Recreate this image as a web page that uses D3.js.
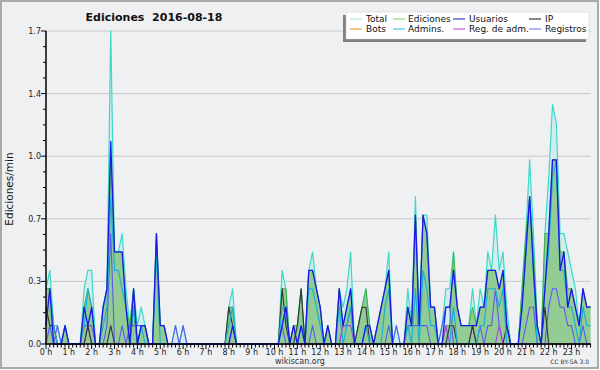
<!DOCTYPE html>
<html><head><meta charset="utf-8">
<script src="https://cdn.jsdelivr.net/npm/d3@7"></script>
<style>html,body{margin:0;padding:0;background:#fff;}svg{display:block;font-family:"DejaVu Sans",sans-serif;}</style>
</head><body>
<svg id="c" width="600" height="370"></svg>
<script>
// 10-minute bins, edits per minute (144 bins, one row per hour)
const total = [
 .3,.4,.1,.1,0,.1,  0,0,0,0,.3,.4,  .4,0,0,.2,.3,1.7,  .5,.5,.6,.3,.1,.3,
 .1,.2,.1,0,0,.6,  .1,.1,0,0,.1,0,  .1,0,0,0,0,0,  0,0,0,0,0,0,
 .2,.3,0,0,0,0,  0,0,0,0,0,0,  0,0,.4,.3,0,.1,  .1,.3,0,.4,.5,.3,
 .2,0,.1,0,0,.3,  .2,.3,.5,0,.1,.2,  .3,.1,0,.1,.2,.3,  .5,0,.1,0,0,.3,
 .1,.8,.1,.7,.7,.2,  .2,0,.1,.3,.3,.5,  .2,.1,.1,.1,.3,.1,  .3,.2,.5,.4,.7,.4,
 .5,.2,0,0,0,.3,  .6,1.0,.6,.1,0,.6,  .9,1.3,1.2,.6,.6,.5,  .4,.3,.1,.3,.2,.2
];
const ediciones = [
 .3,.3,.1,0,0,.1,  0,0,0,0,.2,.3,  .2,0,0,.2,.3,1.0,  .5,.5,.5,.2,.1,.3,
 0,.1,.1,0,0,.6,  .1,.1,0,0,0,0,  0,0,0,0,0,0,  0,0,0,0,0,0,
 .2,.2,0,0,0,0,  0,0,0,0,0,0,  0,0,.3,.3,0,.1,  .1,.3,0,.4,.4,.3,
 .2,0,.1,0,0,.3,  .1,.2,.3,0,.1,.2,  .3,.1,0,.1,.2,.3,  .4,0,0,0,0,.2,
 .1,.7,.1,.7,.6,.2,  .2,0,0,.1,.1,.5,  .2,.1,.1,.1,.2,.1,  .2,.2,.4,.4,.4,.3,
 .4,.1,0,0,0,.3,  .6,.8,.5,.1,0,.6,  .6,1.0,1.0,.5,.5,.3,  .3,.2,.1,.3,.2,.2
];
const usuarios = [
 .1,.3,0,0,0,.1,  0,0,0,0,.2,.1,  .2,0,0,.2,.3,1.1,  .5,.5,.5,.2,0,.3,
 0,.1,.1,0,0,.6,  .1,.1,0,0,0,0,  0,0,0,0,0,0,  0,0,0,0,0,0,
 0,.1,0,0,0,0,  0,0,0,0,0,0,  0,0,.1,.2,0,.1,  0,.1,0,.4,.4,.3,
 .2,0,.1,0,0,.3,  .1,.2,.3,0,0,0,  .1,.1,0,.1,.2,.3,  .4,0,0,0,0,.2,
 .1,.7,.1,.7,.6,.2,  .2,0,0,.2,.2,.4,  .2,.1,.1,.1,.1,.1,  .2,.2,.4,.4,.4,.3,
 .4,.1,0,0,0,.2,  .5,.8,.4,.1,0,.3,  .6,1.0,1.0,.4,.5,.2,  .3,.2,.1,.3,.2,.2
];
const ip = [
 .2,.1,.1,0,0,0,  0,0,0,0,0,.1,  0,0,0,0,0,.1,  0,0,0,0,0,.2,
 0,0,0,0,0,0,  0,0,0,0,0,0,  0,0,0,0,0,0,  0,0,0,0,0,0,
 .2,.1,0,0,0,0,  0,0,0,0,0,0,  0,0,.3,.1,0,0,  .1,.3,0,0,0,0,
 0,0,0,0,0,0,  0,0,0,0,.1,.2,  .2,0,0,0,0,0,  0,0,0,0,0,0,
 0,0,0,0,0,0,  0,0,0,0,.1,.1,  0,0,0,0,.1,0,  0,0,0,0,0,0,
 0,.1,0,0,0,0,  0,0,0,0,0,.2,  0,0,0,0,0,0,  0,0,0,0,0,0
];
const admins = [
 .3,.3,.1,0,0,.1,  0,0,0,0,.1,.3,  .2,0,0,.1,.2,.8,  .4,.4,.3,.2,0,.2,
 0,.1,0,0,0,.5,  0,0,0,0,0,0,  0,0,0,0,0,0,  0,0,0,0,0,0,
 .1,.2,0,0,0,0,  0,0,0,0,0,0,  0,0,.2,.2,0,0,  0,.1,0,.3,.3,.2,
 .1,0,0,0,0,.2,  0,.1,.2,0,0,0,  .1,0,0,0,0,.2,  .3,0,0,0,0,.1,
 0,.3,0,.4,.3,.1,  .1,0,0,0,0,.2,  0,0,0,0,0,0,  .1,.1,.3,.3,.3,.2,
 .3,0,0,0,0,.2,  .5,.8,.4,0,0,.3,  .5,.9,1.0,.4,.4,.2,  .2,.1,0,.2,.1,.1
];
const registros = [
 0,.1,0,.1,0,0,  0,0,0,0,.1,.1,  .1,0,0,0,.1,.6,  0,0,.1,0,.1,.1,
 .1,.1,.1,0,0,0,  0,0,0,0,.1,0,  .1,0,0,0,0,0,  0,0,0,0,0,0,
 0,0,0,0,0,0,  0,0,0,0,0,0,  0,0,.1,0,0,0,  0,0,0,0,.1,0,
 0,0,0,0,0,0,  .1,.1,.2,0,0,0,  0,0,0,0,0,0,  .1,0,.1,0,0,.1,
 .1,.1,.1,.1,.1,0,  0,0,.1,.2,.2,0,  0,0,0,0,.1,0,  .1,0,.1,.1,.3,.1,
 0,0,0,0,0,0,  .1,.2,.2,0,0,0,  .2,.3,.3,.2,.2,.1,  .1,0,0,.1,0,0
];
const regAdm = [
 0,0,0,0,0,0,  0,0,0,0,0,.1,  0,0,0,0,0,0,  0,0,0,0,0,0,
 0,0,0,0,0,0,  0,0,0,0,0,0,  0,0,0,0,0,0,  0,0,0,0,0,0,
 0,0,0,0,0,0,  0,0,0,0,0,0,  0,0,0,0,0,0,  0,0,0,0,0,0,
 0,0,0,0,0,0,  .1,.1,.1,0,0,0,  0,0,0,0,0,0,  0,0,0,0,0,0,
 0,0,0,0,0,0,  0,0,0,.1,0,0,  0,0,0,0,0,0,  0,0,0,0,0,.1,
 0,0,0,0,0,0,  0,0,0,0,0,0,  0,0,0,0,0,0,  0,0,0,0,0,0
];
const hourLabels = d3.range(24).map(h => h + " h");
const yTickValues = [0, 0.34, 0.68, 1.02, 1.36, 1.7];
const yTickLabels = ["0.0", "0.3", "0.7", "1.0", "1.4", "1.7"];
const legendItems = [
  ["Total", "#b0e8e8"], ["Ediciones", "#8fd48f"], ["Usuarios", "#3c3cd0"], ["IP", "#3a3a3a"],
  ["Bots", "#f0a040"], ["Admins.", "#50c8e0"], ["Reg. de adm.", "#d050e0"], ["Registros", "#8080f0"]
];

const svg = d3.select("#c");
svg.append("rect").attr("x",1).attr("y",1).attr("width",597).attr("height",367)
  .attr("fill","#eff0f2").attr("stroke","#aaaaaa").attr("stroke-width",2);

const x = d3.scaleLinear().domain([0,24]).range([46, 46+24*22.85]);
const y = d3.scaleLinear().domain([0,1.7]).range([344,31]);
const nb = total.length;
const xi = i => x(i/6);
const xEnd = xi(nb-1);

// grid
svg.append("g").selectAll("line").data(yTickValues.slice(1)).join("line")
  .attr("x1",x(0)).attr("x2",xEnd).attr("y1",d=>y(d)).attr("y2",d=>y(d))
  .attr("stroke","#c8c8c8").attr("stroke-width",1);

// areas
const area = arr => d3.area().x((d,i)=>xi(i)).y0(y(0)).y1(d=>y(d))(arr);
const line = arr => d3.line().x((d,i)=>xi(i)).y(d=>y(d))(arr);
svg.append("path").attr("d",area(total)).attr("fill","#d3edef");
svg.append("path").attr("d",area(ediciones)).attr("fill","#93cc93");

const series = [
  [total, "#3cd8c8", 1.2],
  [ediciones, "#44b044", 1],
  [registros, "#5a5af0", 1.1],
  [regAdm, "#b040e0", 1.1],
  [ip, "#333333", 1.1],
  [admins, "#1ab0d4", 1.2],
  [usuarios, "#1818e8", 1.3]
];
series.forEach(([arr,col,w]) => {
  svg.append("path").attr("d",line(arr)).attr("fill","none").attr("stroke",col)
    .attr("stroke-width",w).attr("stroke-linejoin","round");
});

// x axis
const gx = svg.append("g");
gx.append("line").attr("x1",x(0)).attr("x2",xEnd).attr("y1",344).attr("y2",344)
  .attr("stroke","#000").attr("stroke-width",1.5);
gx.selectAll("line.t").data(d3.range(nb)).join("line").attr("class","t")
  .attr("x1",d=>xi(d)).attr("x2",d=>xi(d)).attr("y1",344).attr("y2",d=>d%6===0?349:347.5)
  .attr("stroke","#000").attr("stroke-width",1);
gx.selectAll("text").data(hourLabels).join("text")
  .attr("x",(d,i)=>x(i)).attr("y",355).attr("text-anchor","middle")
  .attr("font-size","8px").attr("fill","#222").text(d=>d);

// y axis
const gy = svg.append("g");
gy.append("line").attr("x1",46).attr("x2",46).attr("y1",y(1.7)).attr("y2",344)
  .attr("stroke","#000").attr("stroke-width",1.5);
const minor = d3.range(0,21).map(k=>k*0.085);
gy.selectAll("line.m").data(minor).join("line").attr("class","m")
  .attr("x1",d=>Math.abs((d/0.34)-Math.round(d/0.34))<1e-6?41:43).attr("x2",46)
  .attr("y1",d=>y(d)).attr("y2",d=>y(d)).attr("stroke","#000").attr("stroke-width",1);
gy.selectAll("text").data(yTickValues).join("text")
  .attr("x",41).attr("y",d=>y(d)+3).attr("text-anchor","end")
  .attr("font-size","8px").attr("fill","#222").text((d,i)=>yTickLabels[i]);

svg.append("text").attr("transform","translate(13,189) rotate(-90)")
  .attr("text-anchor","middle").attr("font-size","10.5px").attr("fill","#111").text("Ediciones/min");

// title
svg.append("text").attr("x",154).attr("y",21).attr("text-anchor","middle")
  .attr("font-size","11px").attr("font-weight","bold").attr("fill","#111")
  .attr("xml:space","preserve").style("white-space","pre").text("Ediciones  2016-08-18");

// footer
svg.append("text").attr("x",300).attr("y",364).attr("text-anchor","middle")
  .attr("font-size","8px").attr("fill","#333").text("wikiscan.org");
svg.append("text").attr("x",589).attr("y",364).attr("text-anchor","end")
  .attr("font-size","6px").attr("fill","#333").text("CC BY-SA 3.0");

// legend
const lg = svg.append("g");
lg.append("rect").attr("x",343).attr("y",15).attr("width",243).attr("height",27).attr("fill","#808080");
lg.append("rect").attr("x",346).attr("y",12).attr("width",243).attr("height",27).attr("fill","#ffffff")
  .attr("stroke","#cccccc").attr("stroke-width",0.5);
const colSw = [350, 393, 453, 529];
const colTx = [366, 408, 469, 545];
legendItems.forEach(([name,col],k) => {
  const c = k%4, r = Math.floor(k/4);
  const yy = 19 + r*10;
  lg.append("line").attr("x1",colSw[c]).attr("x2",colSw[c]+12).attr("y1",yy).attr("y2",yy)
    .attr("stroke",col).attr("stroke-width",1.2);
  lg.append("text").attr("x",colTx[c]).attr("y",yy+3.3).attr("font-size","9px").attr("fill","#111").text(name);
});
</script>
</body></html>
